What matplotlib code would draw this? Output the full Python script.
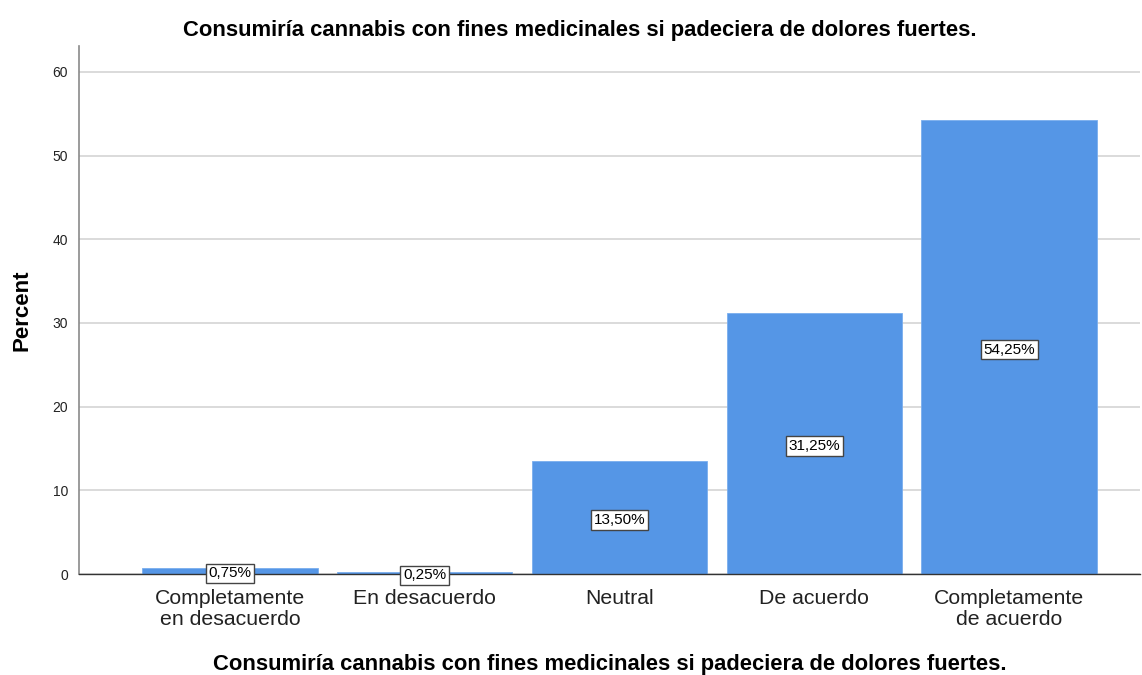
import numpy as np
import matplotlib.pyplot as plt

# data
categorias = ["Completamente\nen desacuerdo", "En desacuerdo", "Neutral",
              "De acuerdo", "Completamente\nde acuerdo"]
porcentajes = [0.75, 0.25, 13.50, 31.25, 54.25]
etiquetas = ["0,75%", "0,25%", "13,50%", "31,25%", "54,25%"]
yticks = [0, 10, 20, 30, 40, 50, 60]

titulo = "Consumiría cannabis con fines medicinales si padeciera de dolores fuertes."

plt.rcParams['font.family'] = ['Liberation Sans', 'DejaVu Sans']

fig = plt.figure(figsize=(11.42, 6.75), dpi=100)
ax = fig.add_axes([0.0692, 0.1496, 0.9288, 0.7823])

x = np.arange(len(categorias))
ax.bar(x, porcentajes, width=0.9, color='#5596E6', edgecolor='#7aaeee',
       linewidth=0.6, zorder=3)

# grid
ax.set_yticks(yticks)
ax.yaxis.grid(True, color='#d4d4d4', linewidth=1.2, zorder=0)
ax.set_axisbelow(True)
ax.set_ylim(0, 63.1)
ax.set_xlim(-0.774, 4.67)

for s in ['top', 'right']:
    ax.spines[s].set_visible(False)
ax.spines['left'].set_color('#8a8a8a')
ax.spines['left'].set_linewidth(1.2)
ax.spines['bottom'].set_color('#333333')
ax.spines['bottom'].set_linewidth(1.0)
ax.spines['bottom'].set_zorder(4)

ax.tick_params(axis='y', length=0, labelsize=10, labelcolor='#222222', pad=8)
ax.tick_params(axis='x', length=0, labelsize=15.3, labelcolor='#222222', pad=11)
ax.set_xticks(x)
ax.set_xticklabels(categorias, linespacing=1.1)

# value boxes
for xi, v, lab in zip(x, porcentajes, etiquetas):
    ax.text(xi, v / 2 - 0.3, lab, ha='center', va='center', fontsize=11, zorder=5,
            bbox=dict(boxstyle='square,pad=0.18', facecolor='white',
                      edgecolor='#444444', linewidth=1.0))

ax.set_ylabel("Percent", fontsize=16, fontweight='bold', labelpad=14)
ax.set_xlabel(titulo, fontsize=15.8, fontweight='bold', labelpad=18)
fig.text(0.508, 0.955, titulo, ha='center', va='center', fontsize=15.8,
         fontweight='bold')

fig.savefig("out.png", dpi=100)
